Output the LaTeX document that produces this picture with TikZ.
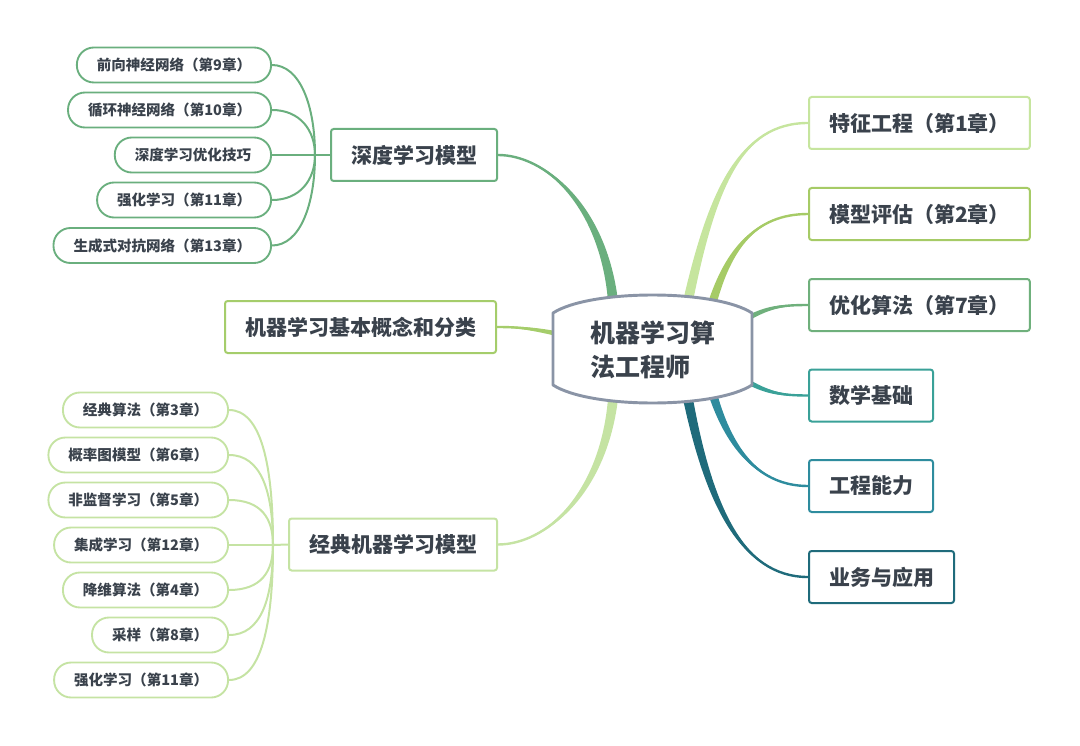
\documentclass[tikz,border=0pt]{standalone}
\usepackage{fontspec}
\setmainfont{Noto Sans CJK SC}
\usetikzlibrary{calc}
\pgfdeclarelayer{bg}
\pgfsetlayers{bg,main}
\definecolor{txt}{HTML}{3A424C}
\definecolor{hubc}{HTML}{8A94A6}
\definecolor{featc}{HTML}{C6E59E}
\definecolor{evalc}{HTML}{A6CB66}
\definecolor{optc}{HTML}{6FB07C}
\definecolor{mathc}{HTML}{3AA198}
\definecolor{engc}{HTML}{2E8C9E}
\definecolor{bizc}{HTML}{1F6B7B}
\definecolor{deepc}{HTML}{6AAF7E}
\definecolor{basicc}{HTML}{A5CD6B}
\definecolor{classc}{HTML}{C5E3A3}
\tikzset{box/.style = {draw, fill=white, rounded corners=2pt, line width=1.5pt,
                       inner xsep=15pt, minimum height=39pt, text=txt,
                       font=\fontsize{15.75pt}{18pt}\selectfont\bfseries}}
\tikzset{leaf/.style = {draw, fill=white, rounded corners=12.75pt, line width=1.4pt,
                        inner xsep=15pt, minimum height=26.25pt, text=txt,
                        font=\fontsize{10.9pt}{13pt}\selectfont\bfseries}}
\tikzset{twig/.style = {line width=1.5pt}}
% tapered branch: colour, start, control 1, control 2, end, half width
\newcommand\branch[6]{%
  \fill[#1] ($#2+#6$) .. controls ($#3+0.667*#6$) and ($#4+0.333*#6$) .. #5
     .. controls ($#4-0.333*#6$) and ($#3-0.667*#6$) .. ($#2-#6$) -- cycle;
  \draw[#1, line width=1.8pt] #2 .. controls #3 and #4 .. #5;}

\begin{document}
\begin{tikzpicture}[x=0.75pt, y=-0.75pt]
    \useasboundingbox (0, 0) rectangle (1080, 745);

    \filldraw [fill=white, draw=hubc, line width=2.2pt, line join=round]
        (553, 313) .. controls (590, 289) and (715, 289) .. (752, 313) -- (752, 385)
        .. controls (715, 409) and (590, 409) .. (553, 385) -- cycle;
    \node [text=txt, align=left, font=\fontsize{18.75pt}{25.5pt}\selectfont\bfseries]
        (hub) at (652.5, 350) {机器学习算\\法工程师};

    % right side
    \node [box, draw=featc,  anchor=west] (feat)  at (808, 123)   {特征工程（第1章）};
    \node [box, draw=evalc,  anchor=west] (eval)  at (808, 214)   {模型评估（第2章）};
    \node [box, draw=optc,   anchor=west] (optim) at (808, 305)   {优化算法（第7章）};
    \node [box, draw=mathc,  anchor=west] (math)  at (808, 395.5) {数学基础};
    \node [box, draw=engc,   anchor=west] (eng)   at (808, 486)   {工程能力};
    \node [box, draw=bizc,   anchor=west] (biz)   at (808, 577)   {业务与应用};

    % left side
    \node [box, draw=deepc,  anchor=east] (deep)    at (498, 155)   {深度学习模型};
    \node [box, draw=basicc, anchor=east] (basic)   at (497, 327)   {机器学习基本概念和分类};
    \node [box, draw=classc, anchor=east] (classic) at (498, 544.5) {经典机器学习模型};

    \foreach \n/\y/\t in {1/65/前向神经网络（第9章）, 2/110/循环神经网络（第10章）,
                          3/155/深度学习优化技巧, 4/200/强化学习（第11章）,
                          5/245.5/生成式对抗网络（第13章）}
        \node [leaf, draw=deepc, anchor=east] (d\n) at (272, \y) {\t};
    \foreach \n/\y/\t in {1/410/经典算法（第3章）, 2/455/概率图模型（第6章）,
                          3/500/非监督学习（第5章）, 4/545/集成学习（第12章）,
                          5/590/降维算法（第4章）, 6/635/采样（第8章）,
                          7/680/强化学习（第11章）}
        \node [leaf, draw=classc, anchor=east] (k\n) at (229, \y) {\t};

    \coordinate (dj) at (315, 155);
    \coordinate (kj) at (273, 545);
    \draw [twig, deepc] (dj) -- (deep.west);
    \draw [twig, classc] (kj) -- (classic.west);
    \foreach \n/\y in {1/65, 2/110, 3/155, 4/200, 5/245.5}
        \draw [twig, deepc] (d\n.east) .. controls +(28, 0) and +(0, {0.55*(\y-155)}) .. (dj);
    \foreach \n/\y in {1/410, 2/455, 3/500, 4/545, 5/590, 6/635, 7/680}
        \draw [twig, classc] (k\n.east) .. controls +(32, 0) and +(0, {0.6*(\y-545)}) .. (kj);

    \coordinate (s1) at ($(hub)+(35.5, -49)$);
    \coordinate (s2) at ($(hub)+(59.5, -46)$);
    \coordinate (s3) at ($(hub)+(94, -31)$);
    \coordinate (s4) at ($(hub)+(94, 31)$);
    \coordinate (s5) at ($(hub)+(60.5, 45)$);
    \coordinate (s6) at ($(hub)+(35.5, 49)$);
    \coordinate (s7) at ($(hub)+(-39.5, -49)$);
    \coordinate (s8) at ($(hub)+(-94, -16)$);
    \coordinate (s9) at ($(hub)+(-39.5, 49)$);

    \begin{pgfonlayer}{bg}
    \branch{featc}{(s1)}{(712, 190)}{(740, 123)}{(feat.west)}{(5, 0)}
    \branch{evalc}{(s2)}{(728, 250)}{(755, 214)}{(eval.west)}{(4.5, 0)}
    \branch{optc}{(s3)}{(768, 307)}{(782, 305)}{(optim.west)}{(0, 3)}
    \branch{mathc}{(s4)}{(768, 393)}{(782, 395.5)}{(math.west)}{(0, 3)}
    \branch{engc}{(s5)}{(730, 450)}{(760, 486)}{(eng.west)}{(4.5, 0)}
    \branch{bizc}{(s6)}{(708, 500)}{(740, 577)}{(biz.west)}{(5, 0)}
    \branch{deepc}{(s7)}{(603, 205)}{(545, 155)}{(deep.east)}{(5, 0)}
    \branch{basicc}{(s8)}{(530, 328)}{(515, 327)}{(basic.east)}{(0, 2.5)}
    \branch{classc}{(s9)}{(603, 495)}{(545, 544.5)}{(classic.east)}{(5, 0)}
    \end{pgfonlayer}
\end{tikzpicture}
\end{document}
